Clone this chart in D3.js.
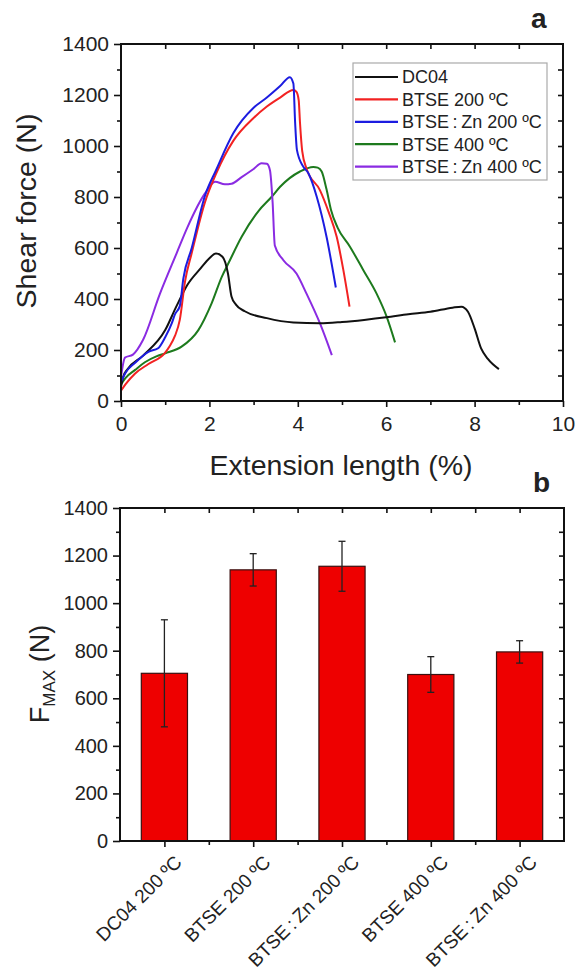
<!DOCTYPE html>
<html>
<head>
<meta charset="utf-8">
<script src="https://cdn.jsdelivr.net/npm/d3@7"></script>
<style>
  html, body { margin: 0; padding: 0; background: #fff; }
  svg { display: block; }
  text { font-family: "Liberation Sans", Arial, sans-serif; fill: #222; }
</style>
</head>
<body>
<svg id="chart" width="577" height="974"></svg>
<script>
// ---------- DATA ----------
const seriesNames = ["DC04", "BTSE 200 ºC", "BTSE\u2009:\u2009Zn 200 ºC", "BTSE 400 ºC", "BTSE\u2009:\u2009Zn 400 ºC"];
const seriesColors = ["#111111", "#f22222", "#1c1ce0", "#1d7a1d", "#8a2be2"];

const dc04 = [[0,55],[0.05,95],[0.15,125],[0.5,178],[1.0,278],[1.25,370],[1.5,455],[1.8,520],[2.0,560],[2.15,578],[2.3,565],[2.42,500],[2.5,410],[2.6,378],[2.8,352],[3.3,325],[3.9,308],[4.5,305],[5.0,310],[5.5,318],[6.0,328],[6.5,340],[7.0,350],[7.5,366],[7.7,370],[7.85,350],[8.0,285],[8.15,205],[8.3,165],[8.55,125]];
const btse200 = [[0,40],[0.1,65],[0.32,108],[0.62,145],[1.0,190],[1.1,215],[1.22,255],[1.33,318],[1.45,470],[1.6,580],[1.9,780],[2.16,895],[2.54,1020],[3.0,1110],[3.3,1155],[3.6,1190],[3.9,1220],[3.97,1212],[4.02,1180],[4.05,1090],[4.1,980],[4.2,910],[4.5,827],[4.7,740],[4.88,644],[5.03,514],[5.17,370]];
const btseZn200 = [[0,75],[0.1,110],[0.32,150],[0.62,193],[0.84,207],[1.0,250],[1.15,305],[1.22,340],[1.33,372],[1.41,480],[1.6,600],[1.9,805],[2.15,905],[2.54,1050],[3.0,1150],[3.3,1190],[3.6,1235],[3.82,1270],[3.9,1245],[3.94,1090],[3.98,985],[4.12,920],[4.24,893],[4.43,800],[4.65,644],[4.86,445]];
const btse400 = [[0,65],[0.1,90],[0.32,122],[0.54,152],[0.8,175],[1.0,187],[1.37,213],[1.75,278],[2.05,383],[2.28,487],[2.43,540],[2.73,644],[3.11,745],[3.41,801],[3.6,840],[4.05,900],[4.35,918],[4.45,915],[4.54,900],[4.65,830],[4.75,750],[4.9,680],[5.18,605],[5.48,514],[5.78,422],[6.01,331],[6.2,230]];
const btseZn400 = [[0,95],[0.09,170],[0.27,182],[0.5,240],[0.88,420],[1.26,580],[1.5,680],[1.9,814],[2.13,860],[2.35,850],[2.5,852],[2.73,878],[3.0,910],[3.18,932],[3.3,930],[3.37,905],[3.43,780],[3.48,610],[3.67,553],[3.97,500],[4.2,420],[4.5,305],[4.77,180]];
const seriesData = [dc04, btse200, btseZn200, btse400, btseZn400];

const xTicksTop = [0, 2, 4, 6, 8, 10];
const yTicks = [0, 200, 400, 600, 800, 1000, 1200, 1400];

const barCategories = ["DC04 200 ºC", "BTSE 200 ºC", "BTSE\u2009:\u2009Zn 200 ºC", "BTSE 400 ºC", "BTSE\u2009:\u2009Zn 400 ºC"];
const barValues = [705, 1140, 1155, 700, 795];
const barErrors = [225, 68, 105, 75, 47];

// ---------- DRAW ----------
const svg = d3.select("#chart");
const AXW = 2;

function frame(g, x0, x1, y0, y1) {
  g.append("rect").attr("x", x0).attr("y", y0).attr("width", x1 - x0).attr("height", y1 - y0)
    .attr("fill", "none").attr("stroke", "#111").attr("stroke-width", AXW);
}
function styleAxis(sel, fs) {
  sel.select(".domain").remove();
  sel.selectAll(".tick line").attr("stroke", "#111").attr("stroke-width", 1.6);
  sel.selectAll(".tick text").style("font-size", fs + "px").attr("fill", "#222")
     .style("font-family", "'Liberation Sans', Arial, sans-serif");
}

// ===== Panel a =====
const ax = { l: 121, r: 563, t: 44, b: 401 };
const x = d3.scaleLinear().domain([0, 10]).range([ax.l, ax.r]);
const y = d3.scaleLinear().domain([0, 1400]).range([ax.b, ax.t]);
const ga = svg.append("g");

// curves
const line = d3.line().x(d => x(d[0])).y(d => y(d[1])).curve(d3.curveMonotoneX);
const drawOrder = [3, 4, 0, 1, 2];
drawOrder.forEach(i => {
  ga.append("path").datum(seriesData[i]).attr("d", line)
    .attr("fill", "none").attr("stroke", seriesColors[i]).attr("stroke-width", 2)
    .attr("stroke-linejoin", "round");
});

// axes
const minorX = d3.range(1, 10, 2);
const minorY = d3.range(100, 1400, 200);
ga.append("g").attr("transform", `translate(0,${ax.b})`)
  .call(d3.axisBottom(x).tickValues(xTicksTop).tickSize(6).tickPadding(9).tickFormat(d3.format("d")))
  .call(s => styleAxis(s, 21));
ga.append("g").attr("transform", `translate(0,${ax.b})`)
  .call(d3.axisBottom(x).tickValues(minorX).tickSize(4).tickFormat(""))
  .call(s => styleAxis(s, 21));
ga.append("g").attr("transform", `translate(${ax.l},0)`)
  .call(d3.axisLeft(y).tickValues(yTicks).tickSize(7).tickPadding(5).tickFormat(d3.format("d")))
  .call(s => styleAxis(s, 21));
ga.append("g").attr("transform", `translate(${ax.l},0)`)
  .call(d3.axisLeft(y).tickValues(minorY).tickSize(4).tickFormat(""))
  .call(s => styleAxis(s, 21));
// mirror (inward)
ga.append("g").attr("transform", `translate(0,${ax.t})`)
  .call(d3.axisBottom(x).tickValues(d3.range(1, 10)).tickSize(5).tickFormat(""))
  .call(s => styleAxis(s, 21));
ga.append("g").attr("transform", `translate(${ax.r},0)`)
  .call(d3.axisLeft(y).tickValues(d3.range(100, 1400, 100)).tickSize(5).tickFormat(""))
  .call(s => styleAxis(s, 21));
frame(ga, ax.l, ax.r, ax.t, ax.b);

// titles
ga.append("text").attr("x", 341).attr("y", 475).attr("text-anchor", "middle")
  .style("font-size", "28.5px").text("Extension length (%)");
ga.append("text").attr("transform", `translate(36,211) rotate(-90)`).attr("text-anchor", "middle")
  .style("font-size", "28.5px").text("Shear force (N)");
ga.append("text").attr("x", 531).attr("y", 28).style("font-size", "28px").style("font-weight", "bold")
  .attr("fill", "#111").text("a");

// legend
const lg = ga.append("g");
lg.append("rect").attr("x", 353).attr("y", 63).attr("width", 194).attr("height", 117)
  .attr("fill", "#fff").attr("stroke", "#aaa").attr("stroke-width", 1.2);
seriesNames.forEach((n, i) => {
  const yy = 77 + i * 22.4;
  lg.append("line").attr("x1", 355).attr("x2", 398).attr("y1", yy).attr("y2", yy)
    .attr("stroke", seriesColors[i]).attr("stroke-width", 2.2);
  lg.append("text").attr("x", 402).attr("y", yy).attr("dy", "0.36em")
    .style("font-size", "18px").text(n);
});

// ===== Panel b =====
const bx = { l: 120, r: 564, t: 508, b: 841 };
const xb = d3.scaleBand().domain(barCategories).range([bx.l, bx.r]).paddingInner(0.48).paddingOuter(0.24);
const yb = d3.scaleLinear().domain([0, 1400]).range([bx.b, bx.t]);
const gb = svg.append("g");

barCategories.forEach((c, i) => {
  gb.append("rect").attr("x", xb(c)).attr("y", yb(barValues[i]))
    .attr("width", xb.bandwidth()).attr("height", yb(0) - yb(barValues[i]))
    .attr("fill", "#ee0000").attr("stroke", "#3a1010").attr("stroke-width", 1.2);
});
barCategories.forEach((c, i) => {
  const cx = xb(c) + xb.bandwidth() / 2;
  const lo = yb(barValues[i] - barErrors[i]), hi = yb(barValues[i] + barErrors[i]);
  const eg = gb.append("g").attr("stroke", "#222").attr("stroke-width", 1.3);
  eg.append("line").attr("x1", cx).attr("x2", cx).attr("y1", lo).attr("y2", hi);
  eg.append("line").attr("x1", cx - 3.5).attr("x2", cx + 3.5).attr("y1", hi).attr("y2", hi);
  eg.append("line").attr("x1", cx - 3.5).attr("x2", cx + 3.5).attr("y1", lo).attr("y2", lo);
});

const centers = barCategories.map(c => xb(c) + xb.bandwidth() / 2);
const step = xb.step();
const bounds = centers.slice(0, -1).map(c => c + step / 2);
const xLin = d3.scaleLinear().domain([bx.l, bx.r]).range([bx.l, bx.r]);

gb.append("g").attr("transform", `translate(0,${bx.b})`)
  .call(d3.axisBottom(xLin).tickValues(centers).tickSize(6).tickFormat(""))
  .call(s => styleAxis(s, 20));
gb.append("g").attr("transform", `translate(0,${bx.b})`)
  .call(d3.axisBottom(xLin).tickValues(bounds).tickSize(4).tickFormat(""))
  .call(s => styleAxis(s, 20));
gb.append("g").attr("transform", `translate(0,${bx.t})`)
  .call(d3.axisBottom(xLin).tickValues(centers.concat(bounds)).tickSize(5).tickFormat(""))
  .call(s => styleAxis(s, 20));
gb.append("g").attr("transform", `translate(${bx.l},0)`)
  .call(d3.axisLeft(yb).tickValues(yTicks).tickSize(7).tickPadding(5).tickFormat(d3.format("d")))
  .call(s => styleAxis(s, 20));
gb.append("g").attr("transform", `translate(${bx.l},0)`)
  .call(d3.axisLeft(yb).tickValues(minorY).tickSize(4).tickFormat(""))
  .call(s => styleAxis(s, 20));
gb.append("g").attr("transform", `translate(${bx.r},0)`)
  .call(d3.axisLeft(yb).tickValues(d3.range(100, 1400, 100)).tickSize(5).tickFormat(""))
  .call(s => styleAxis(s, 20));
frame(gb, bx.l, bx.r, bx.t, bx.b);

// category labels
barCategories.forEach((c, i) => {
  gb.append("text").attr("text-anchor", "end")
    .attr("transform", `translate(${centers[i] + 9},${bx.b + 13}) rotate(-45)`)
    .attr("dy", "0.71em").style("font-size", "19px").text(c);
});

// y title
const yt = gb.append("text").attr("transform", `translate(49,674) rotate(-90)`).attr("text-anchor", "middle")
  .style("font-size", "27px");
yt.append("tspan").text("F");
yt.append("tspan").attr("dy", 6).style("font-size", "17px").text("MAX");
yt.append("tspan").attr("dy", -6).text(" (N)");

gb.append("text").attr("x", 533).attr("y", 492).style("font-size", "28px").style("font-weight", "bold")
  .attr("fill", "#111").text("b");
</script>
</body>
</html>
